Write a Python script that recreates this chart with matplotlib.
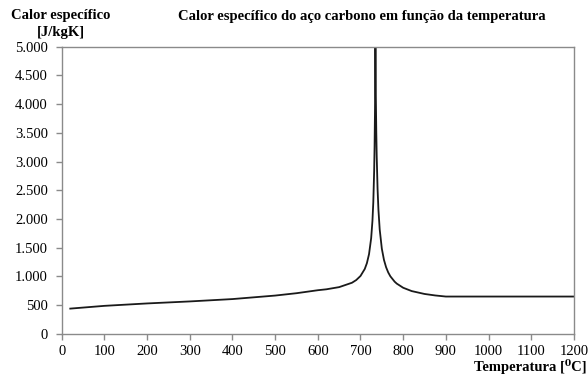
import matplotlib.pyplot as plt
from matplotlib.ticker import FuncFormatter, MultipleLocator

plt.rcParams['font.family'] = ['Liberation Serif', 'DejaVu Serif']

# calor especifico do aco carbono [J/kgK] x temperatura [C]
temperatura = [20, 100, 200, 300, 400, 500, 550, 600, 620, 650, 680, 690, 700,
               710, 715, 720, 725, 728, 730, 732, 733, 734, 735, 736, 737, 738,
               740, 742, 745, 750, 755, 760, 765, 770, 780, 785, 800, 820, 850,
               875, 900, 1200]
calor = [440, 488, 530, 565, 606, 667, 708, 760, 776, 814, 890, 937, 1008,
         1130, 1231, 1388, 1666, 1966, 2291, 2833, 3266, 3917, 5000, 4109, 3515,
         3091, 2525, 2165, 1818, 1483, 1288, 1160, 1069, 1002, 909, 875, 803,
         745, 695, 669, 650, 650]

fig = plt.figure(figsize=(5.88, 3.76), dpi=100)
ax = fig.add_axes([0.105, 0.112, 0.871, 0.764])

ax.plot(temperatura, calor, color='#1a1a1a', lw=1.3)

ax.set_xlim(0, 1200)
ax.set_ylim(0, 5000)
ax.xaxis.set_major_locator(MultipleLocator(100))
ax.yaxis.set_major_locator(MultipleLocator(500))
ax.yaxis.set_major_formatter(FuncFormatter(lambda v, p: f'{int(v):,}'.replace(',', '.')))

for s in ax.spines.values():
    s.set_color('#8a8a8a')
    s.set_linewidth(1.0)
ax.tick_params(direction='out', length=4, width=1, color='#8a8a8a',
               labelsize=10.5, labelcolor='black')
ax.tick_params(axis='y', pad=6)
ax.tick_params(axis='x', pad=4)

fig.text(0.103, 0.958, 'Calor específico', ha='center', va='center',
         fontsize=10.5, fontweight='bold')
fig.text(0.103, 0.913, '[J/kgK]', ha='center', va='center',
         fontsize=10.5, fontweight='bold')
fig.text(0.615, 0.955, 'Calor específico do aço carbono em função da temperatura',
         ha='center', va='center', fontsize=10.5, fontweight='bold')
fig.text(0.998, 0.006, 'Temperatura [⁰C]', ha='right', va='bottom',
         fontsize=10.5, fontweight='bold')

fig.savefig('out.png', dpi=100)
